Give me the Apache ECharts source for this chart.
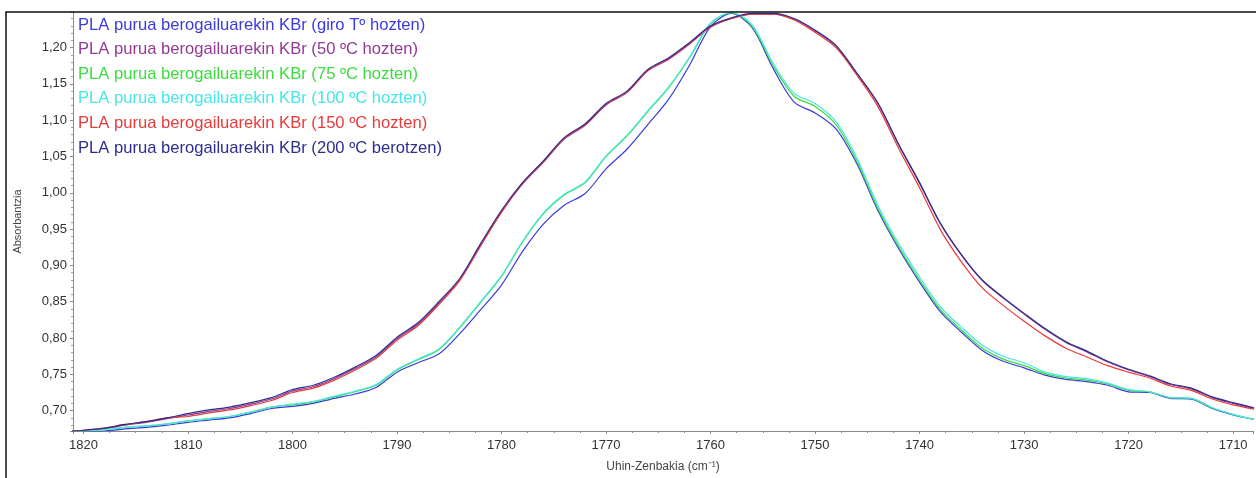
<!DOCTYPE html>
<html>
<head>
<meta charset="utf-8">
<title>PLA purua berogailuarekin KBr</title>
<script src="https://cdn.jsdelivr.net/npm/echarts@6/dist/echarts.min.js"></script>
<style>
  html, body { margin: 0; padding: 0; background: #ffffff; }
  #chart { width: 1256px; height: 478px; }
</style>
</head>
<body>
<div id="chart"></div>
<script>
// Wavenumbers (cm-1), shared by every spectrum
const wavenumbers = [
  1822, 1820, 1818, 1816, 1814, 1812, 1810, 1808, 1806, 1804, 1802, 1800,
  1798, 1796, 1794, 1792, 1790, 1788, 1786, 1784, 1782, 1780, 1778, 1776,
  1774, 1772, 1770, 1768, 1766, 1764, 1762, 1760, 1758, 1756, 1754, 1752,
  1750, 1748, 1746, 1744, 1742, 1740, 1738, 1736, 1734, 1732, 1730, 1728,
  1726, 1724, 1722, 1720, 1718, 1716, 1714, 1712, 1710, 1708
];

const seriesNames = [
  'PLA purua berogailuarekin KBr (giro Tº hozten)',
  'PLA purua berogailuarekin KBr (50 ºC hozten)',
  'PLA purua berogailuarekin KBr (75 ºC hozten)',
  'PLA purua berogailuarekin KBr (100 ºC hozten)',
  'PLA purua berogailuarekin KBr (150 ºC hozten)',
  'PLA purua berogailuarekin KBr (200 ºC berotzen)'
];

const seriesColors = ['#3a3ade', '#933a93', '#3cdc3c', '#46e6e6', '#e83a3a', '#2e2e8c'];

// Absorbance values
const absGiroT = [
  0.669, 0.671, 0.672, 0.675, 0.677, 0.680, 0.684, 0.687, 0.690, 0.696, 0.703, 0.706,
  0.710, 0.717, 0.723, 0.732, 0.753, 0.766, 0.778, 0.806, 0.839, 0.873, 0.919, 0.957,
  0.983, 0.999, 1.033, 1.060, 1.094, 1.129, 1.176, 1.229, 1.247, 1.227, 1.171, 1.125,
  1.110, 1.088, 1.040, 0.976, 0.923, 0.877, 0.836, 0.808, 0.783, 0.768, 0.759, 0.749,
  0.743, 0.740, 0.735, 0.726, 0.725, 0.717, 0.716, 0.703, 0.694, 0.688
];
const abs50 = [
  0.670, 0.672, 0.675, 0.680, 0.684, 0.689, 0.694, 0.699, 0.703, 0.709, 0.716, 0.727,
  0.733, 0.744, 0.758, 0.774, 0.799, 0.819, 0.848, 0.880, 0.928, 0.974, 1.012, 1.042,
  1.074, 1.093, 1.121, 1.138, 1.168, 1.184, 1.205, 1.228, 1.240, 1.246, 1.246, 1.239,
  1.223, 1.202, 1.164, 1.123, 1.066, 1.013, 0.957, 0.914, 0.879, 0.855, 0.833, 0.812,
  0.794, 0.781, 0.767, 0.756, 0.747, 0.736, 0.730, 0.718, 0.710, 0.703
];
const abs75 = [
  0.670, 0.672, 0.674, 0.677, 0.679, 0.682, 0.686, 0.689, 0.692, 0.698, 0.705, 0.708,
  0.712, 0.719, 0.726, 0.735, 0.756, 0.770, 0.784, 0.814, 0.849, 0.885, 0.932, 0.971,
  0.997, 1.014, 1.050, 1.078, 1.112, 1.145, 1.186, 1.233, 1.248, 1.229, 1.175, 1.133,
  1.119, 1.094, 1.044, 0.979, 0.926, 0.880, 0.839, 0.811, 0.786, 0.771, 0.762, 0.751,
  0.745, 0.742, 0.737, 0.728, 0.726, 0.718, 0.717, 0.704, 0.695, 0.688
];
const abs100 = [
  0.670, 0.672, 0.674, 0.677, 0.679, 0.682, 0.686, 0.689, 0.692, 0.698, 0.705, 0.709,
  0.713, 0.720, 0.727, 0.736, 0.757, 0.771, 0.785, 0.815, 0.850, 0.886, 0.933, 0.972,
  0.998, 1.015, 1.051, 1.079, 1.113, 1.146, 1.187, 1.234, 1.248, 1.231, 1.178, 1.137,
  1.123, 1.098, 1.048, 0.983, 0.930, 0.884, 0.843, 0.815, 0.790, 0.775, 0.766, 0.753,
  0.747, 0.744, 0.738, 0.729, 0.726, 0.718, 0.717, 0.704, 0.695, 0.688
];
const abs150 = [
  0.671, 0.673, 0.676, 0.681, 0.685, 0.690, 0.692, 0.697, 0.701, 0.707, 0.714, 0.725,
  0.731, 0.742, 0.756, 0.772, 0.797, 0.817, 0.846, 0.879, 0.927, 0.973, 1.013, 1.043,
  1.075, 1.094, 1.122, 1.139, 1.169, 1.185, 1.206, 1.229, 1.240, 1.246, 1.246, 1.238,
  1.221, 1.200, 1.162, 1.119, 1.061, 1.007, 0.949, 0.905, 0.869, 0.845, 0.823, 0.803,
  0.786, 0.774, 0.762, 0.753, 0.745, 0.734, 0.728, 0.716, 0.708, 0.702
];
const abs200 = [
  0.671, 0.673, 0.676, 0.681, 0.685, 0.690, 0.696, 0.701, 0.705, 0.711, 0.718, 0.729,
  0.735, 0.746, 0.760, 0.776, 0.801, 0.821, 0.850, 0.882, 0.930, 0.976, 1.014, 1.044,
  1.076, 1.095, 1.123, 1.140, 1.170, 1.186, 1.207, 1.230, 1.241, 1.247, 1.247, 1.240,
  1.224, 1.203, 1.165, 1.124, 1.067, 1.014, 0.958, 0.915, 0.880, 0.856, 0.834, 0.813,
  0.795, 0.782, 0.768, 0.757, 0.748, 0.737, 0.731, 0.719, 0.711, 0.704
];

const absorbances = [absGiroT, abs50, abs75, abs100, abs150, abs200];

const FONT = '"Liberation Sans", Arial, sans-serif';

const chart = echarts.init(document.getElementById('chart'), null, { renderer: 'canvas' });

const series = seriesNames.map((name, i) => ({
  name: name,
  type: 'line',
  data: wavenumbers.map((w, j) => [w, absorbances[i][j]]),
  showSymbol: false,
  smooth: 0.3,
  clip: true,
  lineStyle: { color: seriesColors[i], width: 1.2 },
  itemStyle: { color: seriesColors[i] },
  emphasis: { disabled: true }
}));

chart.setOption({
  animation: false,
  backgroundColor: '#ffffff',
  grid: { left: 73, right: 3, top: 12, bottom: 41, containLabel: false },
  legend: {
    orient: 'vertical',
    left: 68,
    top: 11,
    icon: 'none',
    itemWidth: 0,
    itemHeight: 18,
    itemGap: 6.6,
    selectedMode: false,
    data: seriesNames.map((n, i) => ({
      name: n,
      textStyle: { color: seriesColors[i] }
    })),
    textStyle: { fontFamily: FONT, fontSize: 16.6, lineHeight: 18 }
  },
  xAxis: {
    type: 'value',
    inverse: true,
    min: 1708.1,
    max: 1821,
    splitNumber: 11,
    minInterval: 10,
    maxInterval: 10,
    name: 'Uhin-Zenbakia (cm⁻¹)',
    nameLocation: 'middle',
    nameGap: 30,
    nameTextStyle: { fontFamily: FONT, fontSize: 12, color: '#444' },
    axisLine: { show: true, lineStyle: { color: '#8a8a8a', width: 1 } },
    axisTick: { show: true, length: 3, lineStyle: { color: '#8a8a8a' } },
    minorTick: { show: true, splitNumber: 4, length: 2, lineStyle: { color: '#8a8a8a' } },
    axisLabel: {
      fontFamily: FONT, fontSize: 13, color: '#333', margin: 8,
      showMinLabel: false, showMaxLabel: false,
      formatter: v => String(Math.round(v))
    },
    splitLine: { show: false }
  },
  yAxis: {
    type: 'value',
    min: 0.672,
    max: 1.249,
    splitNumber: 12,
    minInterval: 0.05,
    maxInterval: 0.05,
    name: 'Absorbantzia',
    nameLocation: 'middle',
    nameGap: 50,
    nameRotate: 90,
    nameTextStyle: { fontFamily: FONT, fontSize: 11, color: '#444' },
    axisLine: { show: true, lineStyle: { color: '#8a8a8a', width: 1 } },
    axisTick: { show: true, length: 3, lineStyle: { color: '#8a8a8a' } },
    minorTick: { show: true, splitNumber: 5, length: 2, lineStyle: { color: '#a0a0a0' } },
    axisLabel: {
      fontFamily: FONT, fontSize: 13, color: '#333', margin: 6,
      showMinLabel: false, showMaxLabel: false,
      formatter: v => v.toFixed(2).replace('.', ',')
    },
    splitLine: { show: false }
  },
  graphic: [
    {
      type: 'polyline',
      silent: true,
      z: 100,
      shape: { points: [[6, 480], [6, 12], [1258, 12]] },
      style: { stroke: '#111', lineWidth: 1.5, fill: null }
    }
  ],
  series: series
});
</script>
</body>
</html>
